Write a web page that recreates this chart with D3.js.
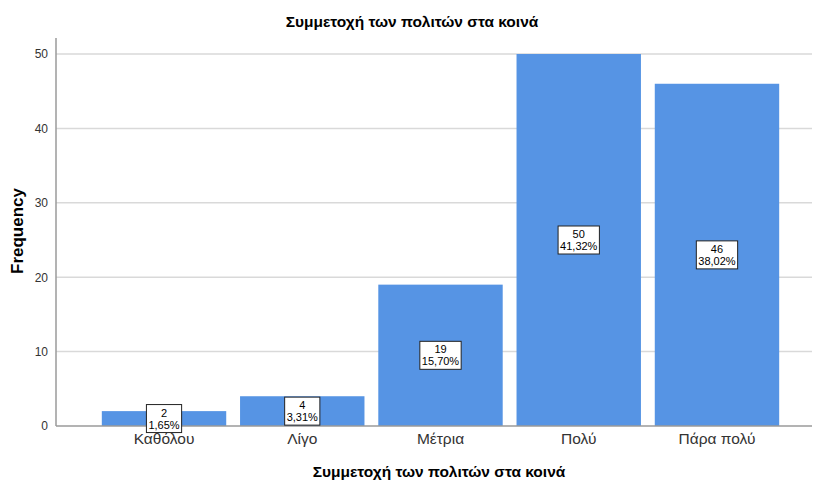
<!DOCTYPE html>
<html><head><meta charset="utf-8">
<script src="https://cdn.jsdelivr.net/npm/d3@7"></script>
<style>body{margin:0;background:#fff;} text{font-family:"Liberation Sans",Arial,sans-serif;}</style>
</head><body><svg id="c" width="813" height="481"></svg>
<script>
const categories = ["Καθόλου","Λίγο","Μέτρια","Πολύ","Πάρα πολύ"];
const frequencies = [2,4,19,50,46];
const percents = ["1,65%","3,31%","15,70%","41,32%","38,02%"];
const yTicks = [0,10,20,30,40,50];
const title = "Συμμετοχή των πολιτών στα κοινά";
const yTitle = "Frequency";

const svg = d3.select("#c");
const x = d3.scaleBand().domain(categories).range([94.9, 786.1]).paddingInner(0.1).paddingOuter(0.05);
const y = d3.scaleLinear().domain([0,50]).range([426,54]);

// gridlines
svg.append("g").selectAll("line").data(yTicks.filter(d=>d>0)).join("line")
  .attr("x1",56).attr("x2",812).attr("y1",d=>y(d)).attr("y2",d=>y(d))
  .attr("stroke","#d9d9d9").attr("stroke-width",1.5);

// bars
svg.append("g").selectAll("rect").data(categories).join("rect")
  .attr("x",(d)=>x(d)).attr("width",x.bandwidth())
  .attr("y",(d,i)=>y(frequencies[i])).attr("height",(d,i)=>y(0)-y(frequencies[i]))
  .attr("fill","#5694e4");

// axes lines
svg.append("line").attr("x1",56).attr("x2",812).attr("y1",y(0)).attr("y2",y(0)).attr("stroke","#9a9a9a").attr("stroke-width",1.5);
svg.append("line").attr("x1",56).attr("x2",56).attr("y1",38).attr("y2",y(0)).attr("stroke","#9a9a9a").attr("stroke-width",1.5);

// y tick labels
const yAxis = d3.axisLeft(y).tickValues(yTicks).tickSize(0).tickPadding(8);
const ya = svg.append("g").attr("transform","translate(56,0)").call(yAxis);
ya.select(".domain").remove();
ya.selectAll("text").attr("font-size",12).attr("fill","#333").attr("font-family","Liberation Sans, Arial");

// x tick labels
const xAxis = d3.axisBottom(x).tickSize(0).tickPadding(7);
const xa = svg.append("g").attr("transform",`translate(0,${y(0)})`).call(xAxis);
xa.select(".domain").remove();
xa.selectAll("text").attr("font-size",15.5).attr("fill","#333").attr("font-family","Liberation Sans, Arial");

// value labels
const lab = svg.append("g").selectAll("g").data(categories).join("g")
  .attr("transform",(d,i)=>`translate(${x(d)+x.bandwidth()/2},${(y(frequencies[i])+y(0))/2})`);
lab.each(function(d,i){
  const g = d3.select(this);
  const rect = g.append("rect");
  const t1 = g.append("text").attr("text-anchor","middle").attr("font-size",11).attr("y",-2).text(frequencies[i]);
  const t2 = g.append("text").attr("text-anchor","middle").attr("font-size",11).attr("y",10).text(percents[i]);
  const w = Math.max(t1.node().getComputedTextLength(), t2.node().getComputedTextLength()) + 4;
  rect.attr("x",-w/2).attr("y",-14).attr("width",w).attr("height",28)
    .attr("fill","#fff").attr("stroke","#222").attr("stroke-width",1);
});

// titles
svg.append("text").attr("x",412).attr("y",27).attr("text-anchor","middle").attr("font-size",15.5).attr("font-weight","bold").text(title);
svg.append("text").attr("x",439).attr("y",477).attr("text-anchor","middle").attr("font-size",15.5).attr("font-weight","bold").text(title);
svg.append("text").attr("transform","translate(23,231) rotate(-90)").attr("text-anchor","middle").attr("font-size",17).attr("font-weight","bold").text(yTitle);
</script></body></html>
